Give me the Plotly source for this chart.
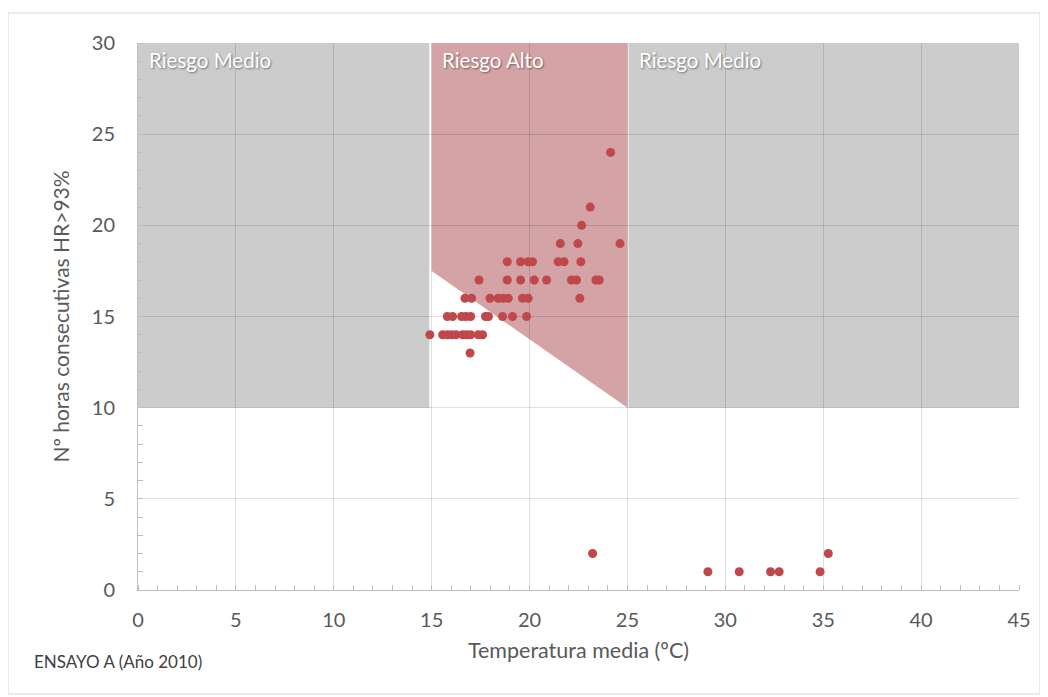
import plotly.graph_objects as go

# Data
temp_media = [
    14.91, 15.56, 15.80, 16.02, 16.24, 16.58, 16.78, 16.99, 17.38, 17.60,  # 14 h
    16.96,                                                                   # 13 h
    15.80, 16.07, 16.53, 16.75, 16.99, 17.75, 17.90, 18.62, 19.13, 19.85,  # 15 h
    16.70, 17.04, 17.98, 18.40, 18.65, 18.91, 19.64, 19.93, 22.57,         # 16 h
    17.42, 18.86, 19.54, 20.24, 20.87, 22.14, 22.40, 23.39, 23.56,         # 17 h
    18.86, 19.54, 19.93, 20.15, 21.46, 21.76, 22.62,                       # 18 h
    21.57, 22.47, 24.62,                                                   # 19 h
    22.66, 23.10, 24.14,                                                   # 20, 21, 24 h
    23.22, 29.11, 30.71, 32.31, 32.75, 34.84, 35.26,                       # bottom
]
horas_hr93 = (
    [14] * 10 + [13] + [15] * 10 + [16] * 9 + [17] * 9 + [18] * 7 + [19] * 3
    + [20, 21, 24] + [2, 1, 1, 1, 1, 1, 2]
)

x_ticks = [0, 5, 10, 15, 20, 25, 30, 35, 40, 45]
y_ticks = [0, 5, 10, 15, 20, 25, 30]

# Risk zones (x range, y range)
zona_medio_izq = dict(x0=0, x1=14.88, y0=10, y1=30)
zona_medio_der = dict(x0=25.05, x1=45, y0=10, y1=30)
zona_alto_x = [15, 25, 25, 15]
zona_alto_y = [30, 30, 10, 17.5]

FONT = "Lato, 'Open Sans', sans-serif"
GRAY = "#595959"

fig = go.Figure()
fig.add_trace(go.Scatter(
    x=temp_media, y=horas_hr93, mode="markers",
    marker=dict(color="#c0474a", size=9),
    showlegend=False, hoverinfo="x+y",
))

shapes = []
for z in (zona_medio_izq, zona_medio_der):
    shapes.append(dict(type="rect", xref="x", yref="y", layer="below",
                       fillcolor="#cccccc", line=dict(width=0), **z))
path = "M " + " L ".join(f"{a},{b}" for a, b in zip(zona_alto_x, zona_alto_y)) + " Z"
shapes.append(dict(type="path", path=path, xref="x", yref="y", layer="below",
                   fillcolor="#d4a3a5", line=dict(width=0)))
# outer chart border
shapes.append(dict(type="rect", xref="paper", yref="paper",
                   x0=-0.1475, x1=1.0238, y0=-0.190, y1=1.0548,
                   line=dict(color="#d9d9d9", width=1), fillcolor="rgba(0,0,0,0)"))

label_font = dict(family=FONT, size=20.5, color="white",
                  shadow="1px 1px 2px rgba(0,0,0,0.45)")
annotations = [
    dict(x=0.45, y=29.85, xref="x", yref="y", text="Riesgo Medio", showarrow=False,
         xanchor="left", yanchor="top", font=label_font),
    dict(x=15.45, y=29.85, xref="x", yref="y", text="Riesgo Alto", showarrow=False,
         xanchor="left", yanchor="top", font=label_font),
    dict(x=25.5, y=29.85, xref="x", yref="y", text="Riesgo Medio", showarrow=False,
         xanchor="left", yanchor="top", font=label_font),
    dict(x=-0.120, y=-0.1316, xref="paper", yref="paper", text="ENSAYO A (Año 2010)",
         showarrow=False, xanchor="left", yanchor="middle",
         font=dict(family=FONT, size=17, color="#404040")),
]

# page body has an 8px margin: shift the figure so the plot area sits at 138..1019 x 43..590
fig.update_layout(
    width=1040, height=689,
    margin=dict(l=130, r=29, t=35, b=107),
    paper_bgcolor="white", plot_bgcolor="white",
    shapes=shapes, annotations=annotations,
    font=dict(family=FONT, color=GRAY),
)
fig.update_xaxes(
    range=[0, 45], tickvals=x_ticks, ticktext=[str(v) for v in x_ticks],
    showgrid=True, gridcolor="rgba(0,0,0,0.12)", gridwidth=1,
    zeroline=False, showline=True, linecolor="#bfbfbf", linewidth=1,
    ticks="", ticklabelstandoff=12, tickfont=dict(size=20, color=GRAY, family=FONT),
    minor=dict(dtick=1, ticks="inside", ticklen=5, tickcolor="#bfbfbf", showgrid=False),
    title=dict(text="Temperatura media (ºC)", font=dict(size=21.5, color=GRAY, family=FONT),
               standoff=12),
)
fig.update_yaxes(
    range=[0, 30], tickvals=y_ticks, ticktext=[str(v) for v in y_ticks],
    showgrid=True, gridcolor="rgba(0,0,0,0.12)", gridwidth=1,
    zeroline=False, showline=True, linecolor="#bfbfbf", linewidth=1,
    ticks="", ticklabelstandoff=18, tickfont=dict(size=20, color=GRAY, family=FONT),
    minor=dict(dtick=1, ticks="inside", ticklen=5, tickcolor="#bfbfbf", showgrid=False),
    title=dict(text="Nº horas consecutivas HR>93%", font=dict(size=21, color=GRAY, family=FONT),
               standoff=16),
)

fig.write_html("out.html")
